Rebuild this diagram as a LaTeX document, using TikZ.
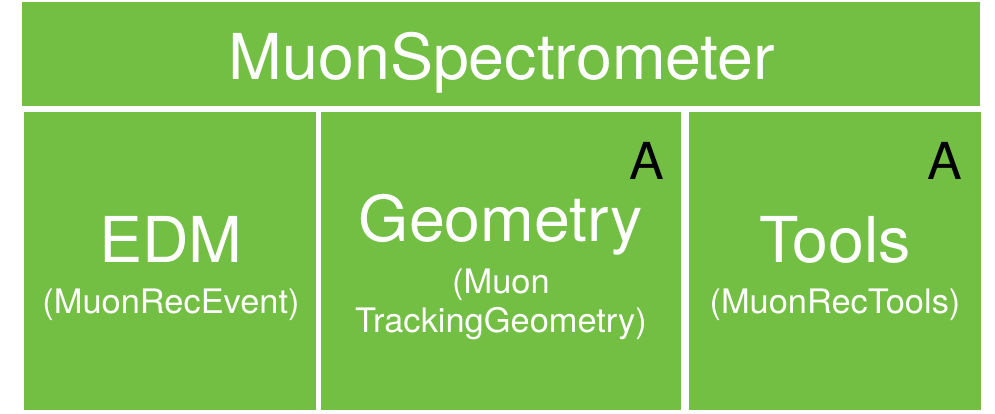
\documentclass[tikz,border=0pt]{standalone}
\usepackage{fontspec}
\setmainfont{TeX Gyre Heros}[FakeStretch=1.02]
\usetikzlibrary{positioning}
\definecolor{blockgreen}{HTML}{72BF44}
\tikzset{
    pkgblock/.style={
        rectangle, fill=blockgreen, draw=none, inner sep=0pt,
        anchor=north west
    },
    bigtitle/.style={
        font=\fontsize{36}{40}\selectfont, text=white, anchor=base, inner sep=0pt
    },
    subtitle/.style={
        font=\fontsize{19.2}{23}\selectfont, text=white, anchor=base, inner sep=0pt
    },
    atlasmark/.style={
        font=\fontsize{29}{32}\selectfont, text=black, anchor=base, inner sep=0pt
    },
}
\begin{document}
\begin{tikzpicture}[x=0.02cm, y=-0.02cm]
    \useasboundingbox (0,0) rectangle (995,413);

    % Top bar
    \node[pkgblock, minimum width=19.16cm, minimum height=2.08cm] (muonspec) at (22,2) {};
    \node[bigtitle] (spectitle) at (502,79) {MuonSpectrometer};

    % Sub packages
    \node[pkgblock, minimum width=5.84cm, minimum height=5.96cm] (edm) at (24,112) {};
    \node[pkgblock, minimum width=7.2cm, minimum height=5.96cm] (geometry) at (321,112) {};
    \node[pkgblock, minimum width=5.84cm, minimum height=5.96cm] (tools) at (689,112) {};

    % EDM
    \node[bigtitle] (edmtitle) at (171,262) {EDM};
    \node[subtitle] (edmsub) at (171,313) {(MuonRecEvent)};

    % Geometry
    \node[bigtitle] (geotitle) at (501,241) {Geometry};
    \node[subtitle] (geosubA) at (501,293) {(Muon};
    \node[subtitle] (geosubB) at (501,332) {TrackingGeometry)};
    \node[atlasmark] (geomark) at (647,179) {A};

    % Tools
    \node[bigtitle] (tooltitle) at (835,262) {Tools};
    \node[subtitle] (toolsub) at (835,313) {(MuonRecTools)};
    \node[atlasmark] (toolmark) at (945,179) {A};

\end{tikzpicture}
\end{document}
